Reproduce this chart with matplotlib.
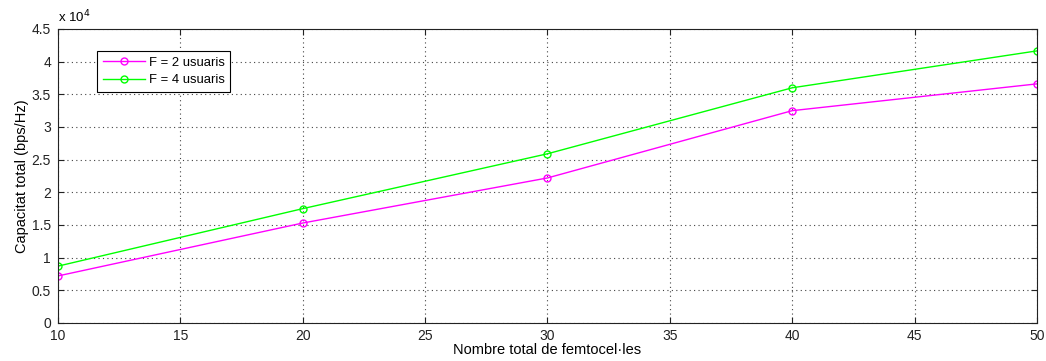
import matplotlib.pyplot as plt
from matplotlib.ticker import FuncFormatter, MultipleLocator

plt.rcParams['font.family'] = ['Liberation Sans', 'DejaVu Sans']
plt.rcParams['font.size'] = 10

# Capacitat total per nombre de femtocel·les
femtocels = [10, 20, 30, 40, 50]
cap_f2 = [7200, 15300, 22200, 32500, 36600]
cap_f4 = [8700, 17500, 25900, 36000, 41650]

fig = plt.figure(figsize=(10.46, 3.61), dpi=100)
ax = fig.add_axes([0.0554, 0.1053, 0.936, 0.8144])

ax.plot(femtocels, cap_f2, color=(1, 0, 1), marker='o', markerfacecolor='none',
        markersize=5, linewidth=1, label='F = 2 usuaris')
ax.plot(femtocels, cap_f4, color=(0, 1, 0), marker='o', markerfacecolor='none',
        markersize=5, linewidth=1, label='F = 4 usuaris')

ax.set_xlim(10, 50)
ax.set_ylim(0, 45000)
ax.xaxis.set_major_locator(MultipleLocator(5))
ax.yaxis.set_major_locator(MultipleLocator(5000))
ax.yaxis.set_major_formatter(FuncFormatter(lambda v, p: '%g' % (v / 1e4)))
ax.text(0.0, 1.012, r'x 10$^4$', transform=ax.transAxes, fontsize=9.5,
        ha='left', va='bottom')

ax.grid(True, linestyle=(0, (1, 3)), color='#444444', linewidth=0.8)
ax.tick_params(direction='in', length=4, top=True, right=True, colors='#222222',
               labelsize=10)
ax.tick_params(axis='x', pad=4)
ax.tick_params(axis='y', pad=5)
for s in ax.spines.values():
    s.set_color('#222222')

ax.set_xlabel('Nombre total de femtocel·les', fontsize=10.5, labelpad=0)
ax.set_ylabel('Capacitat total (bps/Hz)', fontsize=10.5, labelpad=2)

leg = ax.legend(loc='upper left', bbox_to_anchor=(0.04, 0.925), fancybox=False,
                framealpha=1, edgecolor='black', borderpad=0.45, labelspacing=0.4,
                handlelength=3.2, handletextpad=0.3, borderaxespad=0, fontsize=9.4)
leg.get_frame().set_linewidth(0.8)

fig.savefig('out.png', dpi=100)
